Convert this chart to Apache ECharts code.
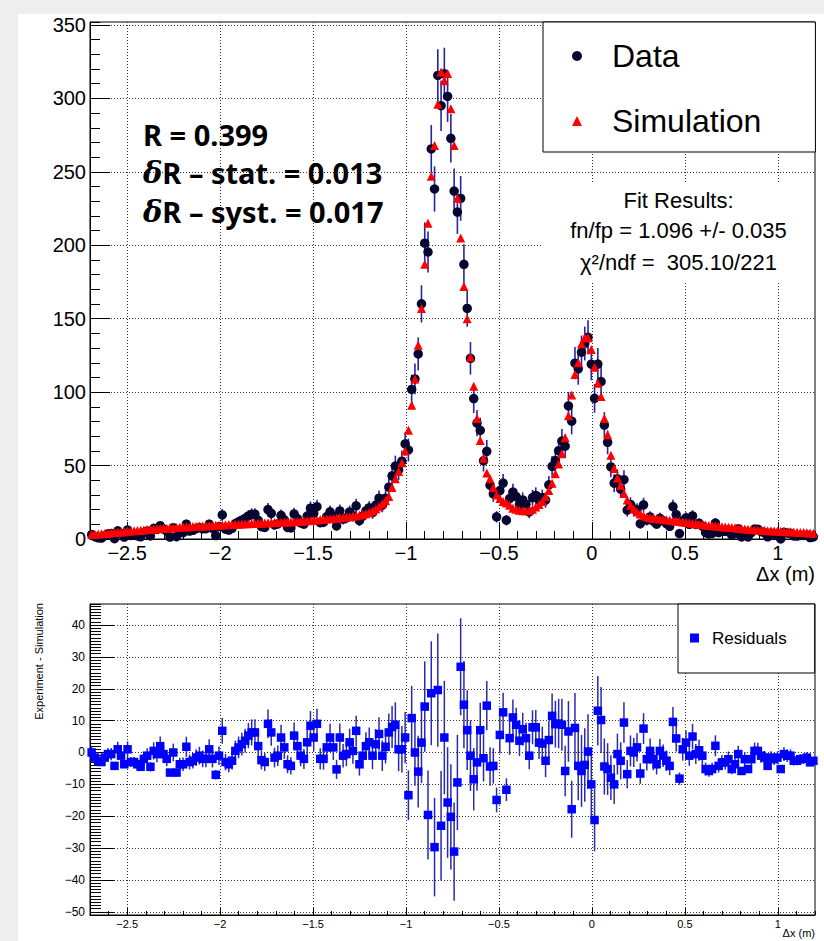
<!DOCTYPE html>
<html><head><meta charset="utf-8">
<script src="https://cdn.jsdelivr.net/npm/echarts@6/dist/echarts.min.js"></script>
<style>html,body{margin:0;padding:0;background:#fff;}#c{width:824px;height:941px;}</style>
</head><body><div id="c"></div>
<script>
// Histogram binning (x axis, metres)
const BIN_MIN = -2.7, BIN_MAX = 1.2, N_BINS = 222;

// Simulation (red triangles), per bin
const simulation = [
3.0,3.2,3.4,3.6,3.8,4.0,4.2,4.4,4.6,4.8,5.0,5.2,5.4,5.6,5.8,6.0,6.2,6.4,6.6,6.8,7.0,
7.1,7.3,7.4,7.6,7.7,7.9,8.0,8.1,8.3,8.4,8.5,8.6,8.8,8.9,9.0,9.1,9.2,9.3,9.4,
9.6,9.7,9.8,9.9,10.0,10.1,10.2,10.3,10.4,10.5,10.6,10.7,10.8,10.9,11.0,11.1,11.2,11.3,11.4,11.5,11.6,11.7,11.8,11.9,12.0,12.2,12.4,12.6,12.8,
13.0,13.2,13.4,13.6,13.8,14.0,14.2,14.4,14.6,14.9,15.2,15.5,15.8,16.2,
16.6,17.2,18,19,20.5,22,24,26,29,35,41,46,52,
60,74,91,109,132,157,187,215,247,268,296,318,312,317,293,268,232,205,172,150,124,104,82,67,55,45,
41,35,30,27.5,25.5,24.5,23,21,20.2,19.6,19.3,19.2,19.4,20.3,21.8,23.5,25.5,29,33,38,44.5,51,58,69,84,98,112,120,133,137,137,129,117,106,97,82,71,57,48,41.5,36.5,31,26.5,23,20.5,
18.3,17,15.8,14.9,14.5,14.2,13.9,13.6,13.4,13.1,12.8,12.5,12.2,11.9,11.6,11.3,11.0,10.7,10.4,10.1,9.8,9.5,9.2,9.0,8.8,8.6,8.4,8.2,8.0,7.8,7.6,7.4,7.2,6.8,6.6,6.5,6.3,6.2,6.0,5.9,5.7,5.6,5.4,5.3,5.2,5.1,5.0,4.9,4.7,4.6,4.5,4.4,4.3,4.1,4.0
];

// Data (dark circles), per bin
const measured = [
3.0,1.6,0.8,0.6,2.2,3.5,3.7,0.2,5.6,3.8,1.3,6.2,2.4,2.6,2.1,1.5,4.2,5.4,2.1,7.3,6.5,
9.1,6.8,5.4,1.3,7.7,1.6,4.3,4.4,10.1,5.4,5.9,7.0,7.8,6.9,7.0,10.1,7.2,2.3,8.4,
16.4,6.7,6.1,7.3,10.5,11.7,12.8,14.0,15.7,16.8,16.9,12.7,8.4,7.9,20.0,17.4,9.6,10.3,16.1,13.1,7.9,7.5,17.1,13.9,11.0,10.2,15.6,21.0,17.5,
22.0,11.2,11.4,15.2,18.5,15.6,8.9,19.1,13.6,14.4,18.4,16.0,22.6,12.5,
15.6,19.2,21.2,18.0,23.1,27.8,23.0,27.8,35.3,43.0,49.7,47.0,53.0,
64.7,60.6,101.8,109,126,160.1,201.4,195.4,265.6,238.3,315.6,295,316.7,301.3,272.8,236.9,222.6,231.9,187,157,123,95.6,78.9,74,53.2,59.7,
36.6,30.8,15.1,33.0,38.1,12.8,27.5,32.0,28.9,23.3,26.6,23.7,18.4,28.2,29.7,26.6,28.3,26.4,36.9,49.5,53.4,60.1,66.7,63.2,90.6,80.2,119.7,115.8,127.2,133.1,137.3,119,95.8,119.1,107.2,77.6,65.8,49.1,38,41,33.9,40.4,19.7,23.5,20.5,
19.9,10.4,23.3,12.8,15.0,12.1,10.2,14.1,12.4,10.5,8.6,22.1,16.6,3.7,12.6,14.4,10.0,15.7,9.9,10.8,8.8,4.3,3.4,3.8,10.9,4.4,5.3,5.1,5.9,2.6,3.9,6.9,1.4,4.7,1.4,4.4,6.8,6.7,5.0,4.3,1.5,4.0,3.3,3.7,0.0,4.6,4.0,3.9,2.1,2.0,2.4,2.4,2.7,1.0,1.4
];

// Residuals (Experiment - Simulation), per bin
const residuals = [
0,-1.6,-2.6,-3,-1.6,-0.5,-0.5,-4.2,1,-1,-3.7,1,-3,-3,-3.7,-4.5,-2,
-1,-4.5,0.5,-0.5,2,-0.5,-2,-6.3,0,-6.3,-3.7,-3.7,1.8,-3,-2.6,-1.6,-1,-2,-2,1,-2,-7,-1,6.8,-3,-3.7,-2.6,0.5,1.6,2.6,3.7,5.3,6.3,6.3,2,-2.4,-3,9,6.3,-1.6,-1,4.7,1.6,-3.7,-4.2,5.3,2,-1,-2,3.2,8.4,4.7,9,-2,-2,1.6,4.7,1.6,-5.3,4.7,-1,-0.5,3.2,0.5,6.8,-3.7,-1,2,3.2,-1,2.6,5.8,-1,1.8,
6.3,8,8.7,1,1,4.7,-13.4,10.8,0,-6,3.1,14.4,-19.6,18.6,-29.7,19.6,-23,4.7,-15.7,-20.2,-31.1,-9.4,26.9,15,7,-1,-8.4,-3.1,7,-1.8,14.7,
-4.4,-4.2,-14.9,5.5,12.6,-11.7,4.5,11,8.7,3.7,7.3,4.5,-1,7.9,7.9,3.1,2.8,-2.6,3.9,11.5,8.9,9.1,8.7,-5.8,6.6,-17.8,7.7,-4.2,-5.8,-3.9,0.3,-10,-21.2,13.1,10.2,-4.4,-5.2,-7.9,-10,-0.5,-2.6,9.4,-6.8,0.5,
0,1.6,-6.6,7.5,-2.1,0.5,-2.1,-3.7,0.5,-1,-2.6,-4.2,9.6,4.4,-8.2,1,3.1,-1,5,-0.5,0.7,-1,-5.2,-5.8,-5.2,2.1,-4.2,-3.1,-3.1,-2.1,-5.2,-3.7,-0.5,-5.8,-2.1,-5.2,-2.1,0.5,0.5,-1,-1.6,-4.2,-1.6,-2.1,-1.6,-5.2,-0.5,-1,-1,-2.6,-2.6,-2.1,-2,-1.6,-3.1,-2.6
];

// Tick labels
const xTicks = [-2.5,-2,-1.5,-1,-0.5,0,0.5,1];
const yTicksTop = [0,50,100,150,200,250,300,350];
const yTicksBottom = [-50,-40,-30,-20,-10,0,10,20,30,40];

const FONT = "'Liberation Sans', Arial, Helvetica, sans-serif";
const binWidth = (BIN_MAX - BIN_MIN) / N_BINS;
const binCenters = simulation.map((_, i) => BIN_MIN + (i + 0.5) * binWidth);
const fmt = v => String(v).replace('-', '\u2212');

const dataPts = measured.map((v, i) => [binCenters[i], v]);
const simPts = simulation.map((v, i) => [binCenters[i], v]);
const resPts = residuals.map((v, i) => [binCenters[i], v]);
const dataErr = measured.map((v, i) => { const e = Math.sqrt(v); return [binCenters[i], v - e, v + e]; });
const resErr = residuals.map((v, i) => { const e = Math.sqrt(measured[i]); return [binCenters[i], v - e, v + e]; });

function errRender(color, width) {
  return function (params, api) {
    const x = api.value(0);
    const p1 = api.coord([x, api.value(1)]);
    const p2 = api.coord([x, api.value(2)]);
    return { type: 'line', shape: { x1: p1[0], y1: p1[1], x2: p2[0], y2: p2[1] },
             style: { stroke: color, lineWidth: width } };
  };
}

const gridLine = { show: true, lineStyle: { color: '#333', width: 1, type: [1, 2] } };

function majorX(grid, tickLen, fontSize, margin) {
  return { gridIndex: grid, type: 'value', min: BIN_MIN, max: BIN_MAX, position: 'bottom',
    axisLine: { show: true, onZero: false, lineStyle: { color: '#000', width: 1 } },
    axisTick: { show: true, inside: true, length: tickLen, customValues: xTicks, lineStyle: { color: '#000', width: 1 } },
    axisLabel: { show: true, customValues: xTicks, formatter: fmt, fontSize: fontSize, color: '#000', margin: margin, fontFamily: FONT },
    splitLine: gridLine };
}
function minorX(grid, tickLen) {
  return { gridIndex: grid, type: 'value', min: BIN_MIN, max: BIN_MAX, interval: 0.1, position: 'bottom',
    axisLine: { show: false, onZero: false },
    axisTick: { show: true, inside: true, length: tickLen, lineStyle: { color: '#000', width: 1 } },
    axisLabel: { show: false }, splitLine: { show: false } };
}
function majorY(grid, min, max, ticks, tickLen, fontSize, margin) {
  return { gridIndex: grid, type: 'value', min: min, max: max, position: 'left',
    axisLine: { show: true, onZero: false, lineStyle: { color: '#000', width: 1 } },
    axisTick: { show: true, inside: true, length: tickLen, customValues: ticks, lineStyle: { color: '#000', width: 1 } },
    axisLabel: { show: true, customValues: ticks, formatter: fmt, fontSize: fontSize, color: '#000', margin: margin, fontFamily: FONT },
    splitLine: gridLine };
}
function minorY(grid, min, max, interval, tickLen) {
  return { gridIndex: grid, type: 'value', min: min, max: max, interval: interval, position: 'left',
    axisLine: { show: false, onZero: false },
    axisTick: { show: true, inside: true, length: tickLen, lineStyle: { color: '#000', width: 1 } },
    axisLabel: { show: false }, splitLine: { show: false } };
}

const BOLD = "'Noto Sans', sans-serif";
const deltaRich = {
  d: { fontSize: 29, fontStyle: 'italic', fontWeight: 'bold', fontFamily: "'DejaVu Serif', serif", fill: '#000' },
  b: { fontSize: 29, fontWeight: 'bold', fontFamily: BOLD, fill: '#000' }
};

const chart = echarts.init(document.getElementById('c'), null, { renderer: 'svg', width: 824, height: 941 });
chart.setOption({
  backgroundColor: '#ffffff',
  animation: false,
  grid: [
    { left: 90, top: 22, width: 725, height: 517, show: true, borderColor: '#000', borderWidth: 1, backgroundColor: 'transparent' },
    { left: 90, top: 604, width: 725, height: 311, show: true, borderColor: '#000', borderWidth: 1, backgroundColor: 'transparent' }
  ],
  xAxis: [ majorX(0, 17, 20, 4), minorX(0, 8), majorX(1, 7, 11, 3), minorX(1, 4) ],
  yAxis: [ majorY(0, 0, 352, yTicksTop, 20, 20, 4), minorY(0, 0, 352, 10, 10),
           majorY(1, -51, 46.6, yTicksBottom, 24, 12, 5), minorY(1, -51, 46.6, 1, 11) ],
  legend: [
    { data: ['Data', 'Simulation'], orient: 'vertical', left: 543, top: 22, padding: [14, 54, 11, 29],
      itemWidth: 10, itemHeight: 10, itemGap: 25, backgroundColor: '#fff', borderColor: '#000', borderWidth: 1,
      selectedMode: false, textStyle: { fontSize: 32, lineHeight: 40, fontFamily: FONT, color: '#000', padding: [0, 0, 0, 25] } },
    { data: ['Residuals'], orient: 'vertical', left: 678, top: 604, padding: [22, 28, 23, 12],
      itemWidth: 9, itemHeight: 9, backgroundColor: '#fff', borderColor: '#000', borderWidth: 1,
      selectedMode: false, textStyle: { fontSize: 17, lineHeight: 24, fontFamily: FONT, color: '#000', padding: [0, 0, 0, 8] } }
  ],
  series: [
    { name: 'dataErr', type: 'custom', xAxisIndex: 0, yAxisIndex: 0, renderItem: errRender('#2424a8', 1.6),
      data: dataErr, encode: { x: 0, y: [1, 2] }, silent: true, z: 2 },
    { name: 'Data', type: 'scatter', xAxisIndex: 0, yAxisIndex: 0, data: dataPts, symbol: 'circle', symbolSize: 9.5,
      itemStyle: { color: '#060630', opacity: 1 }, silent: true, z: 3 },
    { name: 'Simulation', type: 'scatter', xAxisIndex: 0, yAxisIndex: 0, data: simPts, symbol: 'triangle', symbolSize: 9,
      itemStyle: { color: '#ff0000', opacity: 1 }, silent: true, z: 4 },
    { name: 'resErr', type: 'custom', xAxisIndex: 2, yAxisIndex: 2, renderItem: errRender('#2a2aae', 1.5),
      data: resErr, encode: { x: 0, y: [1, 2] }, silent: true, z: 2 },
    { name: 'Residuals', type: 'scatter', xAxisIndex: 2, yAxisIndex: 2, data: resPts, symbol: 'rect', symbolSize: 8.5,
      itemStyle: { color: '#0000ff', opacity: 1 }, silent: true, z: 3 }
  ],
  graphic: [
    { type: 'rect', silent: true, z: 0, shape: { x: 0, y: 0, width: 824, height: 14 }, style: { fill: '#eeeeee' } },
    { type: 'rect', silent: true, z: 0, shape: { x: 0, y: 0, width: 18, height: 941 }, style: { fill: '#efefef' } },
    { type: 'rect', silent: true, z: 50, shape: { x: 543, y: 182, width: 271, height: 100 }, style: { fill: '#ffffff' } },
    { type: 'text', silent: true, z: 51, x: 678.5, y: 200, style: { text: 'Fit Results:', fontSize: 22, fontFamily: FONT, fill: '#000', align: 'center', verticalAlign: 'middle', textAlign: 'center', textVerticalAlign: 'middle' } },
    { type: 'text', silent: true, z: 51, x: 678.5, y: 230, style: { text: 'fn/fp = 1.096 +/- 0.035', fontSize: 22, fontFamily: FONT, fill: '#000', align: 'center', verticalAlign: 'middle', textAlign: 'center', textVerticalAlign: 'middle' } },
    { type: 'text', silent: true, z: 51, x: 678.5, y: 262, style: { text: '\u03c7\u00b2/ndf =  305.10/221', fontSize: 22, fontFamily: FONT, fill: '#000', align: 'center', verticalAlign: 'middle', textAlign: 'center', textVerticalAlign: 'middle' } },
    { type: 'text', silent: true, z: 51, x: 143, y: 134, style: { text: 'R = 0.399', fontSize: 29, fontWeight: 'bold', fontFamily: BOLD, fill: '#000', align: 'left', verticalAlign: 'middle', textVerticalAlign: 'middle' } },
    { type: 'text', silent: true, z: 51, x: 143, y: 172.5, style: { text: '{d|\u03b4}{b|R \u2013 stat. = 0.013}', fill: '#000', align: 'left', verticalAlign: 'middle', textVerticalAlign: 'middle', rich: deltaRich } },
    { type: 'text', silent: true, z: 51, x: 143, y: 211.5, style: { text: '{d|\u03b4}{b|R \u2013 syst. = 0.017}', fill: '#000', align: 'left', verticalAlign: 'middle', textVerticalAlign: 'middle', rich: deltaRich } },
    { type: 'text', silent: true, z: 51, x: 815, y: 574, style: { text: '\u0394x (m)', fontSize: 20, fontFamily: FONT, fill: '#000', align: 'right', verticalAlign: 'middle', textAlign: 'right', textVerticalAlign: 'middle' } },
    { type: 'text', silent: true, z: 51, x: 815, y: 933, style: { text: '\u0394x (m)', fontSize: 11, fontFamily: FONT, fill: '#000', align: 'right', verticalAlign: 'middle', textAlign: 'right', textVerticalAlign: 'middle' } },
    { type: 'text', silent: true, z: 51, x: 39, y: 603, rotation: Math.PI / 2, style: { text: 'Experiment - Simulation', fontSize: 11, fontFamily: FONT, fill: '#000', align: 'right', verticalAlign: 'middle', textAlign: 'right', textVerticalAlign: 'middle' } }
  ]
});
</script></body></html>
